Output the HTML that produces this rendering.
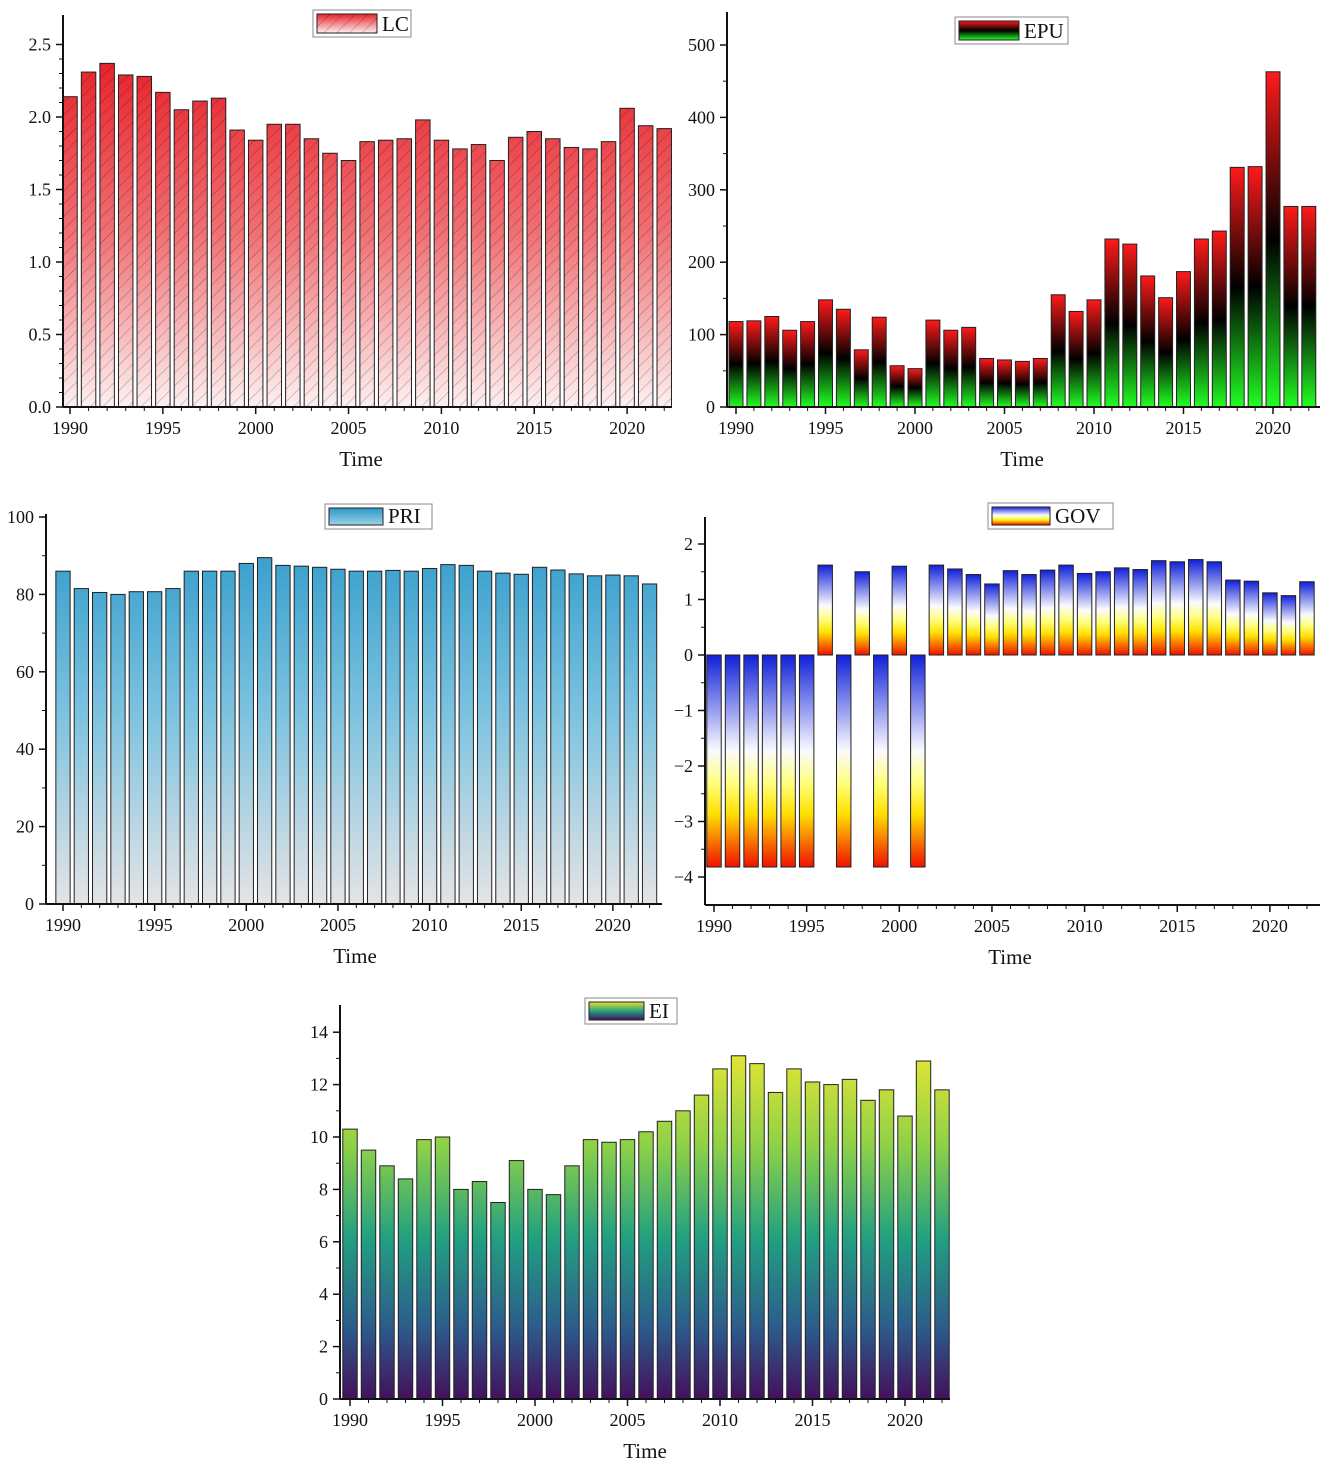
<!DOCTYPE html>
<html><head><meta charset="utf-8">
<style>
html,body{margin:0;padding:0;background:#fff;}
svg{display:block;font-family:"Liberation Serif",serif;}
</style></head>
<body>
<svg id="root" width="1325" height="1467" viewBox="0 0 1325 1467">
<defs>
<linearGradient id="gLC" gradientUnits="userSpaceOnUse" x1="0" y1="60" x2="0" y2="407">
<stop offset="0" stop-color="#e8222a"/><stop offset="0.5" stop-color="#f07074"/><stop offset="1" stop-color="#fdf0f0"/></linearGradient>
<pattern id="hatch" patternUnits="userSpaceOnUse" width="9" height="9" patternTransform="rotate(45)">
<line x1="0" y1="0" x2="0" y2="9" stroke="#000" stroke-opacity="0.35" stroke-width="1"/></pattern>
<linearGradient id="gEPU" x1="0" y1="0" x2="0" y2="1">
<stop offset="0" stop-color="#ff1a1a"/><stop offset="0.5" stop-color="#000"/><stop offset="1" stop-color="#22ff22"/></linearGradient>
<linearGradient id="gPRI" gradientUnits="userSpaceOnUse" x1="0" y1="520" x2="0" y2="904">
<stop offset="0" stop-color="#2a98c8"/><stop offset="0.5" stop-color="#7cc2e0"/><stop offset="1" stop-color="#e4e4e4"/></linearGradient>
<linearGradient id="gGOV" x1="0" y1="0" x2="0" y2="1">
<stop offset="0" stop-color="#1020d8"/><stop offset="0.45" stop-color="#fafaff"/><stop offset="0.6" stop-color="#ffff80"/><stop offset="0.75" stop-color="#ffe000"/><stop offset="1" stop-color="#f01000"/></linearGradient>
<linearGradient id="gEI" gradientUnits="userSpaceOnUse" x1="0" y1="1040" x2="0" y2="1399">
<stop offset="0" stop-color="#f0e830"/><stop offset="0.3" stop-color="#8cd048"/><stop offset="0.55" stop-color="#22a080"/><stop offset="0.8" stop-color="#2c5c8c"/><stop offset="1" stop-color="#44105c"/></linearGradient>
</defs>
</svg>
<script>
const years = [];
for (let y = 1990; y <= 2022; y++) years.push(y);
const lcValues = [2.14,2.31,2.37,2.29,2.28,2.17,2.05,2.11,2.13,1.91,1.84,1.95,1.95,1.85,1.75,1.70,1.83,1.84,1.85,1.98,1.84,1.78,1.81,1.70,1.86,1.90,1.85,1.79,1.78,1.83,2.06,1.94,1.92];
const epuValues = [118,119,125,106,118,148,135,79,124,57,53,120,106,110,67,65,63,67,155,132,148,232,225,181,151,187,232,243,331,332,463,277,277];
const priValues = [86,81.5,80.5,80,80.7,80.7,81.5,86,86,86,88,89.5,87.5,87.3,87,86.5,86,86,86.2,86,86.7,87.7,87.5,86,85.5,85.2,87,86.3,85.3,84.8,85,84.8,82.7];
const govValues = [-3.82,-3.82,-3.82,-3.82,-3.82,-3.82,1.62,-3.82,1.5,-3.82,1.6,-3.82,1.62,1.55,1.45,1.28,1.52,1.45,1.53,1.62,1.47,1.5,1.57,1.54,1.7,1.68,1.72,1.68,1.35,1.33,1.12,1.07,1.32];
const eiValues = [10.3,9.5,8.9,8.4,9.9,10.0,8.0,8.3,7.5,9.1,8.0,7.8,8.9,9.9,9.8,9.9,10.2,10.6,11.0,11.6,12.6,13.1,12.8,11.7,12.6,12.1,12.0,12.2,11.4,11.8,10.8,12.9,11.8];
const lcTicks = [0,0.5,1.0,1.5,2.0,2.5];
const epuTicks = [0,100,200,300,400,500];
const priTicks = [0,20,40,60,80,100];
const govTicks = [-4,-3,-2,-1,0,1,2];
const eiTicks = [0,2,4,6,8,10,12,14];
const yearTicks = [1990,1995,2000,2005,2010,2015,2020];

const NS = "http://www.w3.org/2000/svg";
const root = document.getElementById('root');
function mk(tag, attrs, parent) {
  const e = document.createElementNS(NS, tag);
  for (const k in attrs) e.setAttribute(k, attrs[k]);
  (parent || root).appendChild(e);
  return e;
}

function chart(c) {
  const g = mk('g', {});
  
  
  const xs = v => c.x1990 + (v - 1990) * c.ppy;
  const ys = v => c.y0 - v * c.ppu;
  const bw = c.ppy * 0.78;
  c.values.forEach((v, i) => {
    const x = xs(years[i]) - bw / 2;
    const top = Math.min(ys(v), ys(0)), h = Math.abs(ys(v) - ys(0));
    const r = mk('rect', {x: x, y: top, width: bw, height: h, fill: 'url(#' + c.grad + ')', stroke: '#222', 'stroke-width': 1}, g);
    
    
    if (c.hatch) {
      const hr = mk('rect', {x: x, y: top, width: bw, height: h, fill: 'url(#hatch)'}, g);
      
      
    }
  });
  const ya = mk('line', {x1: c.left, y1: c.top, x2: c.left, y2: c.bottom, stroke: '#111', 'stroke-width': 2}, g);
  
  
  const xa = mk('line', {x1: c.left, y1: c.bottom, x2: c.right, y2: c.bottom, stroke: '#111', 'stroke-width': 2}, g);
  
  
  c.ticks.forEach((t, i) => {
    const y = ys(t);
    mk('line', {x1: c.left - 7, y1: y, x2: c.left, y2: y, stroke: '#111', 'stroke-width': 1.5}, g);
    const tx = mk('text', {x: c.left - 12, y: y + 6, 'text-anchor': 'end', 'font-size': 18, fill: '#111'}, g);
    tx.textContent = c.fmt ? t.toFixed(1) : String(t).replace('-', '\u2212');
    
    
    if (i < c.ticks.length - 1) {
      const step = (c.ticks[i + 1] - t) / c.minor;
      for (let k = 1; k < c.minor; k++) {
        const my = ys(t + step * k);
        mk('line', {x1: c.left - 4, y1: my, x2: c.left, y2: my, stroke: '#111', 'stroke-width': 1}, g);
      }
    }
  });
  for (let yr = 1990; yr <= 2022; yr++) {
    const x = xs(yr);
    const major = yearTicks.includes(yr);
    mk('line', {x1: x, y1: c.bottom, x2: x, y2: c.bottom + (major ? 7 : 4), stroke: '#111', 'stroke-width': major ? 1.5 : 1}, g);
  }
  yearTicks.forEach(yr => {
    const tx = mk('text', {x: xs(yr), y: c.bottom + 27, 'text-anchor': 'middle', 'font-size': 18, fill: '#111'}, g);
    tx.textContent = yr;
    
    
  });
  const tt = mk('text', {x: c.timeX, y: c.bottom + 59, 'text-anchor': 'middle', 'font-size': 21, fill: '#111'}, g);
  tt.textContent = 'Time';
  
  
  const L = c.legend;
  const lb = mk('rect', {x: L[0], y: L[1], width: L[2], height: L[3], fill: '#fff', stroke: '#888', 'stroke-width': 1}, g);
  
  
  const sw = mk('rect', {x: L[0] + 4, y: L[1] + 4, width: L[4], height: L[3] - 8, fill: 'url(#' + c.lgrad + ')', stroke: '#222', 'stroke-width': 1}, g);
  
  
  if (c.hatch) mk('rect', {x: L[0] + 4, y: L[1] + 4, width: L[4], height: L[3] - 8, fill: 'url(#hatch)'}, g);
  const lt = mk('text', {x: L[0] + L[4] + 9, y: L[1] + L[3] - 6, 'font-size': 21, fill: '#111'}, g);
  lt.textContent = c.label;
  
  
}
const defs = root.querySelector('defs');
defs.insertAdjacentHTML('beforeend',
 '<linearGradient id="lLC" x1="0" y1="0" x2="0" y2="1"><stop offset="0" stop-color="#e8222a"/><stop offset="1" stop-color="#fdf0f0"/></linearGradient>' +
 '<linearGradient id="lPRI" x1="0" y1="0" x2="0" y2="1"><stop offset="0" stop-color="#2a98c8"/><stop offset="1" stop-color="#9fd2ea"/></linearGradient>' +
 '<linearGradient id="lEI" x1="0" y1="0" x2="0" y2="1"><stop offset="0" stop-color="#e8e030"/><stop offset="0.5" stop-color="#22a080"/><stop offset="1" stop-color="#44105c"/></linearGradient>');

chart({name:'lc', label:'LC', values:lcValues, ticks:lcTicks, fmt:true, minor:5, grad:'gLC', lgrad:'lLC', hatch:true,
  x1990:70, ppy:18.57, y0:407, ppu:145, left:63, right:672, top:15, bottom:407, timeX:361, legend:[313,10,98,27,60]});
chart({name:'epu', label:'EPU', values:epuValues, ticks:epuTicks, minor:2, grad:'gEPU', lgrad:'gEPU',
  x1990:736, ppy:17.9, y0:407, ppu:0.724, left:727, right:1320, top:12, bottom:407, timeX:1022, legend:[955,17,113,27,60]});
chart({name:'pri', label:'PRI', values:priValues, ticks:priTicks, minor:2, grad:'gPRI', lgrad:'lPRI',
  x1990:63, ppy:18.33, y0:904, ppu:3.87, left:46, right:662, top:514, bottom:904, timeX:355, legend:[325,504,107,25,54]});
chart({name:'gov', label:'GOV', values:govValues, ticks:govTicks, minor:2, grad:'gGOV', lgrad:'gGOV',
  x1990:714, ppy:18.53, y0:655, ppu:55.5, left:705, right:1320, top:517, bottom:905, timeX:1010, legend:[988,503,125,26,58]});
chart({name:'ei', label:'EI', values:eiValues, ticks:eiTicks, minor:2, grad:'gEI', lgrad:'lEI',
  x1990:350, ppy:18.5, y0:1399, ppu:26.2, left:340, right:950, top:1005, bottom:1399, timeX:645, legend:[585,998,92,26,55]});
</script>
</body></html>
